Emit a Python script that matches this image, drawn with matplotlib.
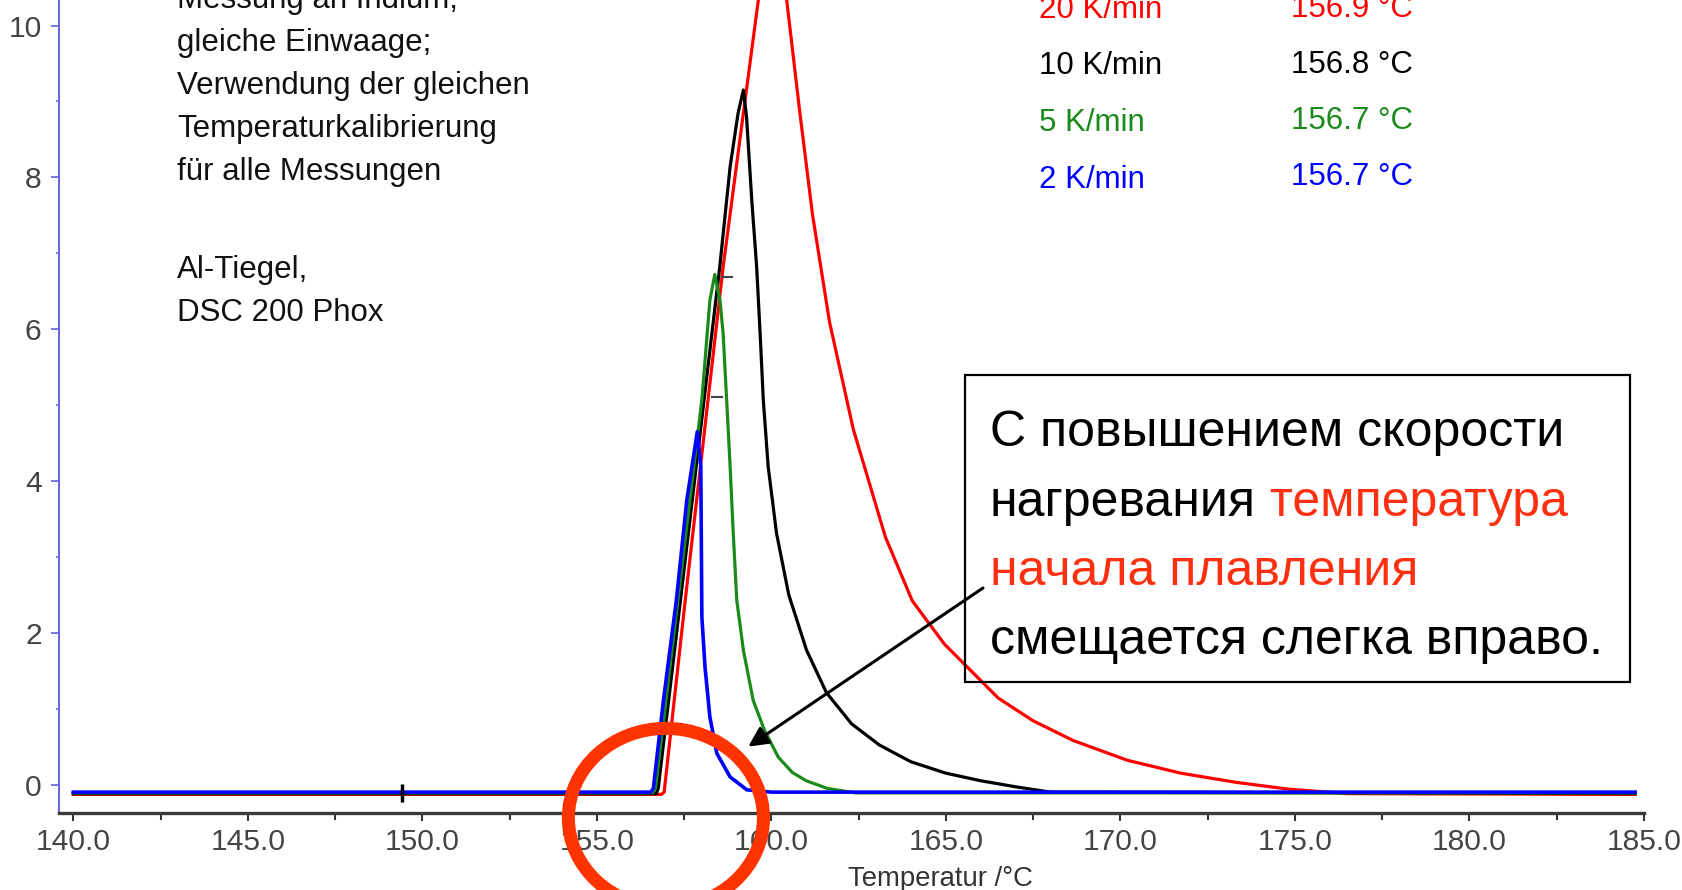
import matplotlib
matplotlib.use('Agg')
import matplotlib.pyplot as plt
from matplotlib import font_manager
from matplotlib.patches import Ellipse, Rectangle
from matplotlib.text import Annotation
from matplotlib.ticker import MultipleLocator, FormatStrFormatter

W, H = 1683, 890

# DSC curves of indium (T in degC, heat flow)
t_2 = [140.0, 148.0, 156.55, 156.62, 156.91, 157.28, 157.58, 157.88, 157.98,
       158.01, 158.10, 158.24, 158.44, 158.82, 159.30, 160.0, 184.75]
v_2 = [-0.10, -0.10, -0.10, -0.05, 1.11, 2.43, 3.75, 4.65, 4.19,
       2.21, 1.55, 0.89, 0.41, 0.10, -0.07, -0.10, -0.10]

t_5 = [140.0, 156.6, 156.68, 157.0, 157.5, 158.01, 158.24, 158.38, 158.53,
       158.62, 158.72, 158.82, 158.91, 159.01, 159.20, 159.48, 159.80, 160.2,
       160.6, 161.0, 161.6, 162.4, 184.75]
v_5 = [-0.11, -0.11, -0.05, 1.18, 3.10, 5.07, 6.38, 6.72, 6.38,
       5.94, 5.07, 4.19, 3.31, 2.43, 1.77, 1.11, 0.72, 0.36,
       0.16, 0.05, -0.05, -0.11, -0.11]

t_10 = [140.0, 156.7, 156.76, 157.3, 158.0, 158.53, 158.82, 159.05, 159.20,
        159.29, 159.44, 159.58, 159.68, 159.77, 159.91, 160.15, 160.50, 161.01,
        161.58, 162.30, 163.10, 164.0, 165.0, 166.0, 167.0, 168.0, 184.75]
v_10 = [-0.12, -0.12, -0.05, 2.05, 4.78, 6.85, 8.14, 8.85, 9.15,
        8.80, 7.70, 6.82, 5.94, 5.07, 4.19, 3.31, 2.50, 1.77,
        1.21, 0.80, 0.52, 0.30, 0.15, 0.05, -0.03, -0.10, -0.12]

t_20 = [140.0, 156.85, 156.93, 157.5, 158.0, 158.62, 159.25, 159.63, 159.90,
        160.05, 160.25, 160.44, 160.80, 161.18, 161.67, 162.35, 163.27, 164.04,
        164.96, 166.50, 167.5, 168.65, 170.2, 171.73, 173.3, 174.8, 176.5, 184.75]
v_20 = [-0.13, -0.13, -0.10, 2.29, 4.31, 6.82, 9.02, 10.34, 11.3,
        11.5, 11.2, 10.34, 8.92, 7.51, 6.09, 4.68, 3.26, 2.42,
        1.85, 1.14, 0.84, 0.58, 0.32, 0.15, 0.03, -0.06, -0.12, -0.13]

rates = ['20 K/min', '10 K/min', '5 K/min', '2 K/min']
onsets = ['156.9 °C', '156.8 °C', '156.7 °C', '156.7 °C']
colors = ['#ff0000', '#000000', '#1a8a1a', '#0000ff']

notes_1 = ['Messung an Indium,', 'gleiche Einwaage;', 'Verwendung der gleichen',
           'Temperaturkalibrierung', 'für alle Messungen']
notes_2 = ['Al-Tiegel,', 'DSC 200 Phox']

names = {f.name for f in font_manager.fontManager.ttflist}
if 'Liberation Sans Narrow' in names:
    tick_font, k = 'Liberation Sans Narrow', 1.0
else:
    tick_font, k = 'Liberation Sans', 0.9
plt.rcParams['font.family'] = tick_font
body = 'Liberation Sans'


def fx(x):
    return x / W


def fy(y):
    return 1 - y / H


fig = plt.figure(figsize=(W / 100, H / 100), dpi=100)
ax = fig.add_axes([fx(59), fy(813), (1643.8 - 59) / W, 813 / H])

ax.plot(t_20, v_20, color=colors[0], lw=2.3)
ax.plot(t_10, v_10, color=colors[1], lw=2.3)
ax.plot(t_5, v_5, color=colors[2], lw=2.3)
ax.plot(t_2, v_2, color=colors[3], lw=2.6)

# little evaluation marks
ax.plot([149.41], [-0.11], marker='|', ms=13, mew=2.5, color='black', ls='none')
ax.plot([158.72, 158.44], [6.69, 5.11], marker='_', ms=8, mew=1.5, color='#444444', ls='none')

ax.set_xlim(139.59, 185.0)
ax.set_ylim(-0.375, 10.336)

for s in ['top', 'right']:
    ax.spines[s].set_visible(False)
ax.spines['left'].set_color('#6a6ae0')
ax.spines['left'].set_linewidth(1.5)
ax.spines['bottom'].set_color('#3a3a3a')
ax.spines['bottom'].set_linewidth(2.4)

ax.xaxis.set_major_locator(MultipleLocator(5))
ax.xaxis.set_minor_locator(MultipleLocator(2.5))
ax.xaxis.set_major_formatter(FormatStrFormatter('%.1f'))
ax.yaxis.set_major_locator(MultipleLocator(2))
ax.yaxis.set_minor_locator(MultipleLocator(1))
ax.yaxis.set_major_formatter(FormatStrFormatter('%d'))

ax.tick_params(axis='x', which='major', length=6, width=1.5, color='#333333',
               pad=5, labelsize=24 * k, labelcolor='#444444')
ax.tick_params(axis='x', which='minor', length=5, width=1.5, color='#333333')
ax.tick_params(axis='y', which='major', length=5.5, width=1.3, color='#6a6ae0',
               pad=7, labelsize=24 * k, labelcolor='#444444')
ax.tick_params(axis='y', which='minor', length=2.5, width=1.2, color='#6a6ae0')

fig.text(fx(940), fy(886), 'Temperatur /°C', ha='center', va='baseline',
         fontsize=22 * k, color='#333333')

# notes top left
for i, s in enumerate(notes_1):
    fig.text(fx(177), fy(8 + 43 * i), s, family=body, fontsize=22.5,
             va='baseline', color='#111111')
for i, s in enumerate(notes_2):
    fig.text(fx(177), fy(278 + 43 * i), s, family=body, fontsize=22.5,
             va='baseline', color='#111111')

# legend of onset temperatures
for i in range(4):
    fig.text(fx(1039), fy(18 + 56.5 * i), rates[i], family=body, fontsize=22.5,
             va='baseline', color=colors[i])
    fig.text(fx(1413), fy(17 + 56 * i), onsets[i], family=body, fontsize=22.5,
             va='baseline', ha='right', color=colors[i])

# box with russian comment
fig.add_artist(Rectangle((fx(965), fy(682)), (1630 - 965) / W, (682 - 375) / H,
                         transform=fig.transFigure, facecolor='none',
                         edgecolor='black', lw=1.6, zorder=2))
hl = '#ff3010'
tk = dict(family=body, fontsize=36, va='baseline', zorder=3)
fig.text(fx(990), fy(446), 'С повышением скорости', color='black', **tk)
t1 = fig.text(fx(990), fy(516), 'нагревания', color='black', **tk)
fig.add_artist(Annotation(' температура', xy=(1, 0), xycoords=t1, ha='left',
                          va='bottom', family=body, fontsize=36, color=hl,
                          zorder=3, annotation_clip=False))
fig.text(fx(990), fy(585), 'начала плавления', color=hl, **tk)
fig.text(fx(990), fy(654), 'смещается слегка вправо.', color='black', **tk)

ax.annotate('', xy=(159.34, 0.50), xycoords='data',
            xytext=(983, H - 588), textcoords='figure pixels',
            arrowprops=dict(arrowstyle='-|>', lw=2.2, color='black',
                            mutation_scale=30, shrinkA=0, shrinkB=0),
            zorder=6, annotation_clip=False)

ax.add_patch(Ellipse((156.98, -0.44), 5.59, 2.36, fill=False,
                     edgecolor='#ff3300', lw=9.4, clip_on=False, zorder=7))

fig.savefig('out.png', dpi=100)
